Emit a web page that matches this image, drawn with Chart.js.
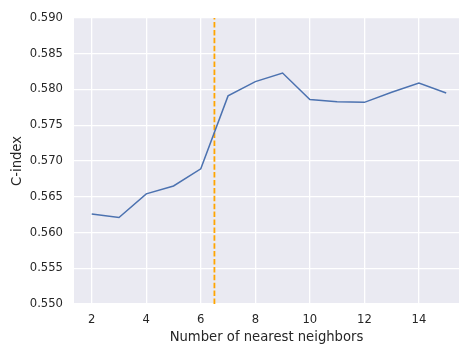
<!DOCTYPE html>
<html>
<head>
<meta charset="utf-8">
<script src="https://cdn.jsdelivr.net/npm/chart.js@4"></script>
<style>
  html, body { margin: 0; padding: 0; background: #fff; }
  #wrap { width: 459px; height: 345px; }
</style>
</head>
<body>
<div id="wrap"><canvas id="knn-chart"></canvas></div>
<script>
// values
const neighbors = [2, 3, 4, 5, 6, 7, 8, 9, 10, 11, 12, 13, 14, 15];
const cIndex = [0.5626, 0.5621, 0.5654, 0.5665, 0.5689, 0.5791, 0.5811, 0.5823,
                0.5786, 0.5783, 0.5782, 0.5796, 0.5809, 0.5795];
const cutoff = 6.5;
const xTicks = [2, 4, 6, 8, 10, 12, 14];
const yTicks = [0.550, 0.555, 0.560, 0.565, 0.570, 0.575, 0.580, 0.585, 0.590];

const font = { family: "'DejaVu Sans', sans-serif", size: 11.6 };
const titleFont = { family: "'DejaVu Sans', sans-serif", size: 13.2 };
const textColor = '#262626';

// paints the seaborn-like grey panel behind the plot area
const panelBg = {
  id: 'panelBg',
  beforeDraw(chart) {
    const a = chart.chartArea, ctx = chart.ctx;
    ctx.save();
    ctx.fillStyle = '#EAEAF2';
    ctx.fillRect(a.left, a.top, a.right - a.left, a.bottom - a.top);
    ctx.restore();
  }
};

new Chart(document.getElementById('knn-chart'), {
  type: 'line',
  data: {
    datasets: [{
      data: neighbors.map((n, i) => ({ x: n, y: cIndex[i] })),
      borderColor: '#4C72B0',
      borderWidth: 1.5,
      pointRadius: 0,
      tension: 0,
      clip: false
    }, {
      data: [{ x: cutoff, y: yTicks[0] }, { x: cutoff, y: yTicks[yTicks.length - 1] }],
      borderColor: '#FFA500',
      borderWidth: 1.8,
      borderDash: [5.5, 2.4],
      pointRadius: 0,
      clip: false
    }]
  },
  options: {
    responsive: true,
    maintainAspectRatio: false,
    animation: false,
    layout: { padding: { top: 15, right: 0, left: 10, bottom: 0 } },
    plugins: { legend: { display: false }, tooltip: { enabled: false } },
    scales: {
      x: {
        type: 'linear',
        min: 1.35,
        max: 15.47,
        afterBuildTicks: axis => { axis.ticks = xTicks.map(v => ({ value: v })); },
        afterFit: axis => { axis.height = 41; },
        grid: { color: '#ffffff', lineWidth: 1.3, drawTicks: false },
        border: { display: false },
        ticks: { font: font, color: textColor, padding: 9, maxRotation: 0 },
        title: { display: true, text: 'Number of nearest neighbors', font: titleFont, color: textColor, padding: { top: 0, bottom: 0 } }
      },
      y: {
        min: 0.550,
        max: 0.590,
        afterBuildTicks: axis => { axis.ticks = yTicks.map(v => ({ value: v })); },
        afterFit: axis => { axis.width = 64; },
        grid: { color: '#ffffff', lineWidth: 1.3, drawTicks: false },
        border: { display: false },
        ticks: { font: font, color: textColor, padding: 11, callback: v => v.toFixed(3) },
        title: { display: true, text: 'C-index', font: titleFont, color: textColor, padding: { top: 0, bottom: 0 } }
      }
    }
  },
  plugins: [panelBg]
});
</script>
</body>
</html>
